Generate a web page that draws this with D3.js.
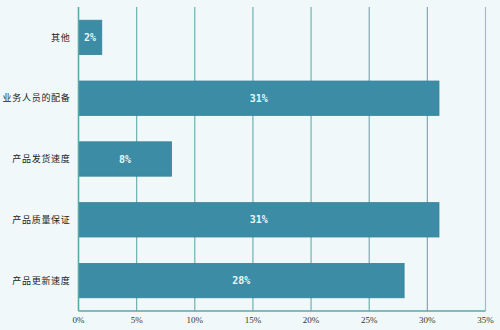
<!DOCTYPE html>
<html>
<head>
<meta charset="utf-8">
<script src="https://cdn.jsdelivr.net/npm/d3@7"></script>
<style>
  html, body { margin: 0; padding: 0; background: #f1f8fa; }
  svg { display: block; }
</style>
</head>
<body>
<svg id="chart" width="500" height="330"></svg>
<script>
// Survey factors and their share (%)
const categories = ["其他", "业务人员的配备", "产品发货速度", "产品质量保证", "产品更新速度"];
const values = [2, 31, 8, 31, 28];
const xTicks = [0, 5, 10, 15, 20, 25, 30, 35];
const tickLabels = ["0%", "5%", "10%", "15%", "20%", "25%", "30%", "35%"];

const svg = d3.select("#chart");
const margin = { top: 7, right: 15, bottom: 19, left: 78.5 };
const W = 500, H = 330;
const innerH = H - margin.top - margin.bottom;

const g = svg.append("g").attr("transform", `translate(${margin.left},${margin.top})`);

const x = d3.scaleLinear().domain([0, 35]).range([0, 407]);
const y = d3.scaleBand().domain(categories).range([0, innerH]).paddingInner(0.435).paddingOuter(0.2175);

// vertical grid lines
g.selectAll(".grid").data(xTicks).join("line")
  .attr("class", "grid")
  .attr("x1", d => x(d)).attr("x2", d => x(d))
  .attr("y1", 0).attr("y2", innerH)
  .attr("stroke", (d, i) => i === xTicks.length - 1 ? "#8cc8c6" : "#6eb2b0")
  .attr("stroke-width", 1.2);

// bars
g.selectAll(".bar").data(values).join("rect")
  .attr("class", "bar")
  .attr("x", x(0))
  .attr("y", (d, i) => y(categories[i]))
  .attr("width", d => x(d) - x(0))
  .attr("height", y.bandwidth())
  .attr("fill", "#3d8ca5")
  .attr("stroke", "#36829a")
  .attr("stroke-width", 0.8);

// value labels
g.selectAll(".val").data(values).join("text")
  .attr("class", "val")
  .attr("x", d => x(d) / 2)
  .attr("y", (d, i) => y(categories[i]) + y.bandwidth() / 2)
  .attr("dy", "0.35em")
  .attr("text-anchor", "middle")
  .attr("font-family", "'DejaVu Sans Mono', monospace")
  .attr("font-weight", "bold")
  .attr("font-size", 10)
  .attr("fill", "#e6f6fb")
  .text(d => d + "%");

// left axis line and bottom axis line
g.append("line").attr("x1", 0).attr("x2", 0).attr("y1", 0).attr("y2", innerH)
  .attr("stroke", "#5aa8a8").attr("stroke-width", 1.4);
g.append("line").attr("x1", 0).attr("x2", x(35)).attr("y1", innerH).attr("y2", innerH)
  .attr("stroke", "#5aa8a8").attr("stroke-width", 1.4);

// category labels
g.selectAll(".cat").data(categories).join("text")
  .attr("class", "cat")
  .attr("x", -8)
  .attr("y", d => y(d) + y.bandwidth() / 2)
  .attr("dy", "0.35em")
  .attr("text-anchor", "end")
  .attr("font-family", "'Noto Sans CJK SC', sans-serif")
  .attr("font-size", 9)
  .attr("letter-spacing", 0.7)
  .attr("fill", "#222")
  .text(d => d);

// x tick labels
g.selectAll(".tick").data(xTicks).join("text")
  .attr("class", "tick")
  .attr("x", d => x(d))
  .attr("y", innerH + 12)
  .attr("text-anchor", "middle")
  .attr("font-family", "'Liberation Serif', serif")
  .attr("font-size", 9)
  .attr("fill", "#333")
  .text((d, i) => tickLabels[i]);
</script>
</body>
</html>
